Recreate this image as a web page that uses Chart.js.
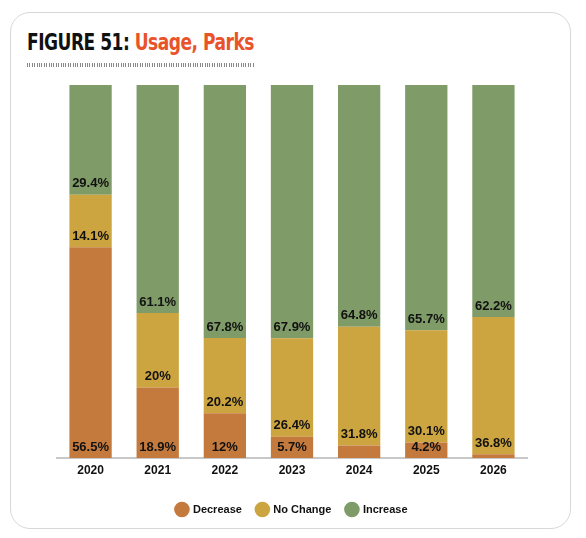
<!DOCTYPE html>
<html><head><meta charset="utf-8">
<script src="https://cdn.jsdelivr.net/npm/chart.js@4"></script>
<style>
html,body{margin:0;padding:0;background:#fff;width:586px;height:538px;overflow:hidden;}
#card{position:absolute;left:10px;top:12px;width:561px;height:517px;border:1.5px solid #d8d8d8;border-radius:20px;box-sizing:border-box;}
#title{position:absolute;left:27px;top:29px;font-family:"DejaVu Sans Condensed","DejaVu Sans";font-weight:bold;font-size:23px;letter-spacing:-0.6px;color:#111;white-space:nowrap;transform:scaleX(0.825);transform-origin:0 0;}
#title span{color:#E8532A;}
#rule{position:absolute;left:27px;top:63px;width:228px;height:4px;background:repeating-linear-gradient(90deg,#888 0 1px,#fff 1px 2.4px);}
#wrap{position:absolute;left:0;top:0;width:586px;height:538px;}
</style></head>
<body>
<div id="card"></div>
<div id="title">FIGURE 51: <span>Usage, Parks</span></div>
<div id="rule"></div>
<div id="wrap"><canvas id="c"></canvas></div>
<script>
const categories = ["2020","2021","2022","2023","2024","2025","2026"];
const decrease = [56.5, 18.9, 12, 5.7, 3.4, 4.2, 1.0];
const noChange = [14.1, 20, 20.2, 26.4, 31.8, 30.1, 36.8];
const increase = [29.4, 61.1, 67.8, 67.9, 64.8, 65.7, 62.2];
const seriesNames = ["Decrease","No Change","Increase"];
const colors = ["#C57A3D","#CDA540","#7E9B68"];

const labelPlugin = {
  id:'segLabels',
  afterDatasetsDraw(chart){
    const ctx = chart.ctx;
    ctx.save();
    ctx.font = 'bold 13px "Liberation Sans", Arial, sans-serif';
    ctx.fillStyle = '#111';
    ctx.textAlign = 'center';
    ctx.textBaseline = 'middle';
    chart.data.datasets.forEach((ds, i) => {
      const meta = chart.getDatasetMeta(i);
      meta.data.forEach((bar, j) => {
        const v = ds.data[j];
        if (v < 4) return;
        ctx.fillText(v + '%', bar.x, bar.base - 11);
      });
    });
    ctx.restore();
  }
};

new Chart(document.getElementById('c'), {
  type:'bar',
  data:{
    labels: categories,
    datasets:[
      {label:seriesNames[0], data:decrease, backgroundColor:colors[0]},
      {label:seriesNames[1], data:noChange, backgroundColor:colors[1]},
      {label:seriesNames[2], data:increase, backgroundColor:colors[2]}
    ]
  },
  options:{
    responsive:true, maintainAspectRatio:false, animation:false,
    layout:{padding:{left:57, right:59, top:85, bottom:13}},
    datasets:{bar:{categoryPercentage:0.63, barPercentage:1}},
    scales:{
      x:{stacked:true, grid:{display:false, drawTicks:false}, border:{color:'#c8c8c8', width:2},
         afterFit(scale){ scale.height += 6.5; },
         ticks:{color:'#111', padding:5, font:{family:'"Liberation Sans", Arial, sans-serif', weight:'bold', size:12}}},
      y:{stacked:true, display:false, min:0, max:100}
    },
    plugins:{
      legend:{position:'bottom', labels:{usePointStyle:true, pointStyle:'circle', boxWidth:13, boxHeight:13, padding:15, color:'#111',
        font:{family:'"Liberation Sans", Arial, sans-serif', weight:'bold', size:11}}},
      tooltip:{enabled:false}
    }
  },
  plugins:[labelPlugin]
});
</script>
</body></html>
